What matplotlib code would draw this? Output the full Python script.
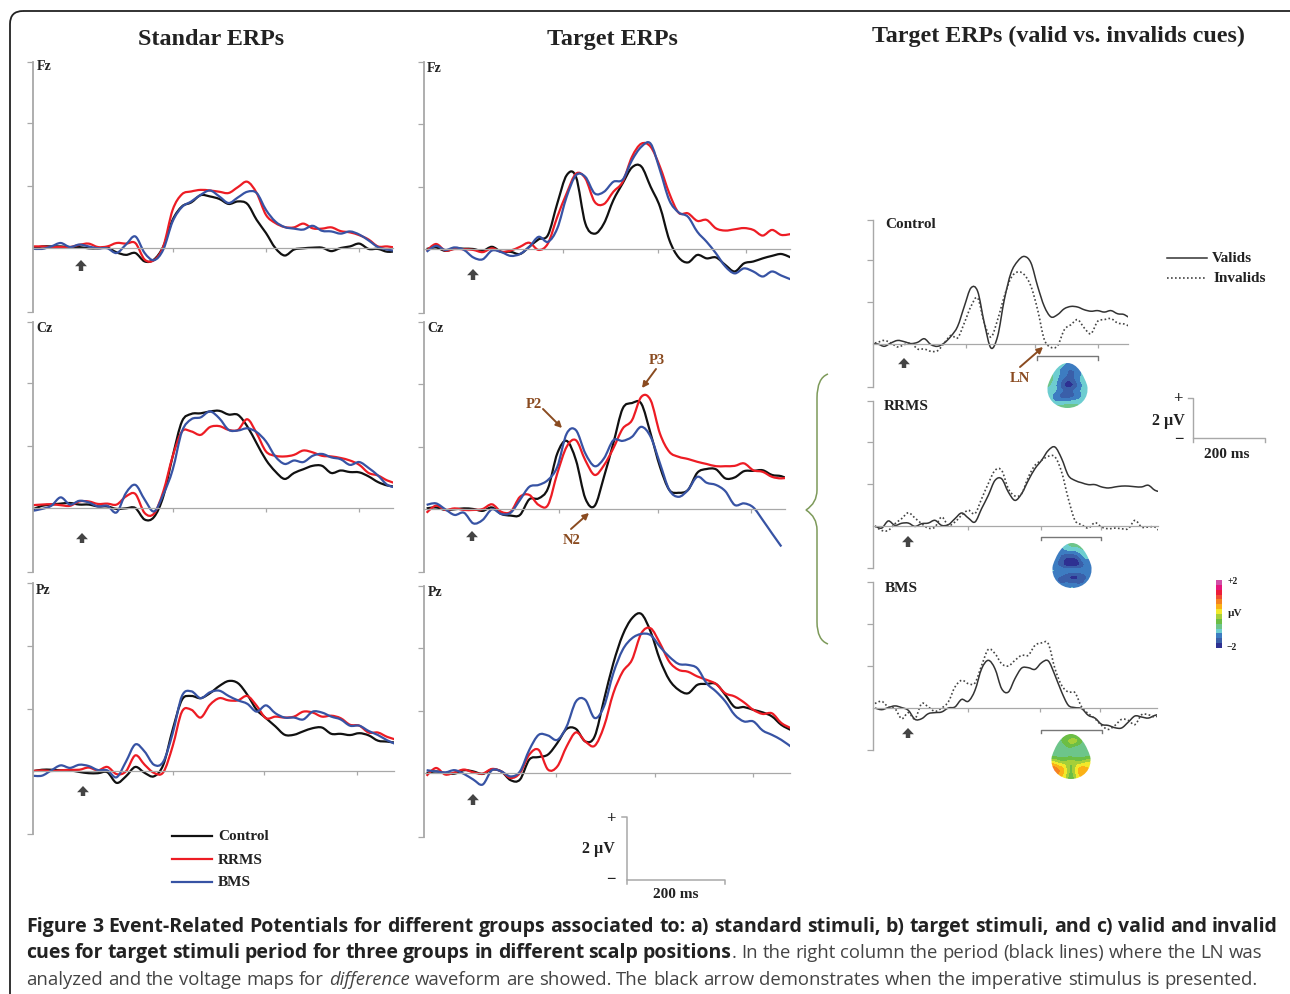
"""ERP figure: standard / target waveforms by group, valid vs invalid cues, scalp maps."""
import matplotlib

matplotlib.use("Agg")
import matplotlib.pyplot as plt
import numpy as np
from matplotlib.colors import ListedColormap
from matplotlib.patches import FancyBboxPatch, PathPatch
from matplotlib.path import Path

W, H = 1290, 994
SERIF = "Liberation Serif"
SANS = "Open Sans"

# time base in ms, one sample every 20 ms
t_group = list(range(-100, 700, 20))
t_ctrl = list(range(-100, 700, 20))
t_long = list(range(-100, 780, 20))

# ---------- Standard ERPs, values in uV ----------
std_fz_control = [-.02, .05, .05, .05, .03, .03, -.01, -.01, .01, -.14, -.22, -.16, -.43, -.37, .05, .9, 1.33, 1.46, 1.69, 1.65, 1.57, 1.41, 1.49, 1.41, .9, .48, 0, -.24, -.05, -.01, .01, .01, -.1, 0, .05, .14, -.03, -.03, -.12, -.1]
std_fz_rrms = [.05, .05, .03, .03, .03, .1, .14, .03, .05, .16, .14, .16, -.37, -.39, .05, 1.22, 1.72, 1.81, 1.86, 1.84, 1.8, 1.76, 1.95, 2.12, 1.76, 1.06, .8, .67, .66, .78, .63, .62, .66, .54, .5, .41, .27, .05, .05, 0]
std_fz_bms = [-.02, -.03, .05, .16, .03, .11, .05, -.01, -.01, -.16, .11, .37, -.16, -.39, -.05, .85, 1.31, 1.49, 1.7, 1.84, 1.65, 1.44, 1.62, 1.8, 1.76, 1.22, .85, .67, .62, .59, .71, .55, .53, .46, .53, .43, .24, .03, -.05, -.1]

std_cz_control = [-.05, .07, .11, .14, .16, .11, .11, .05, .05, -.03, -.01, 0, -.37, -.29, .37, 1.65, 2.77, 3.01, 3.03, 3.09, 3.11, 2.99, 2.98, 2.61, 2.07, 1.54, 1.17, .93, 1.12, 1.24, 1.35, 1.35, 1.12, 1.2, 1.15, 1.14, 1.01, .83, .72, .68]
std_cz_rrms = [.09, .11, .12, .09, .07, .21, .21, .13, .14, .11, .37, .45, -.16, -.18, .53, 1.65, 2.45, 2.45, 2.34, 2.59, 2.62, 2.5, 2.5, 2.84, 2.39, 1.81, 1.67, 1.65, 1.7, 1.84, 1.78, 1.67, 1.65, 1.6, 1.52, 1.38, 1.12, 1.04, .88, .78]
std_cz_bms = [-.09, -.03, .07, .34, .11, .23, .18, .05, .07, -.14, .48, .74, .27, -.11, .43, 1.22, 2.45, 2.84, 2.9, 3.09, 2.87, 2.5, 2.48, 2.55, 2.43, 2.13, 1.65, 1.41, 1.52, 1.47, 1.67, 1.73, 1.62, 1.56, 1.38, 1.47, 1.28, 1.04, .74, .65]

std_pz_control = [-.01, .04, .04, .02, .02, -.03, -.07, -.07, -.04, -.38, -.17, .13, -.06, -.17, .2, 1.32, 2.28, 2.4, 2.33, 2.49, 2.72, 2.88, 2.81, 2.44, 1.96, 1.69, 1.43, 1.16, 1.16, 1.27, 1.37, 1.39, 1.19, 1.19, 1.15, 1.21, 1.14, .97, .94, .9]
std_pz_rrms = [0, .02, 0, .02, .04, .04, .11, .02, .13, -.1, -.01, .5, .2, -.06, -.04, .79, 1.9, 1.96, 1.71, 2.12, 2.33, 2.26, 2.26, 2.4, 2.09, 1.69, 1.74, 1.71, 1.74, 1.9, 1.87, 1.74, 1.77, 1.69, 1.48, 1.45, 1.23, 1.23, 1.09, 1.0]
std_pz_bms = [-.15, -.15, .02, .18, .1, .2, .16, .03, .02, -.2, .3, .85, .62, .2, .3, 1.2, 2.4, 2.55, 2.33, 2.52, 2.57, 2.4, 2.26, 2.15, 1.9, 2.1, 1.85, 1.71, 1.71, 1.65, 1.9, 1.87, 1.74, 1.65, 1.45, 1.45, 1.28, 1.15, .98, .85]

# ---------- Target ERPs ----------
tgt_fz_control = [0, .05, -.06, .01, .01, 0, -.06, .07, -.09, -.09, -.16, .07, .31, .45, 1.46, 2.36, 2.31, .82, .49, .82, 1.56, 2.1, 2.61, 2.64, 1.99, 1.35, .29, -.27, -.43, -.19, -.3, -.27, -.51, -.72, -.46, -.4, -.3, -.22, -.16, -.27]
tgt_fz_rrms = [-.06, .16, -.05, 0, -.01, -.03, -.1, .02, -.09, -.05, .07, .2, -.03, .18, 1.03, 1.78, 2.41, 2.26, 1.51, 1.44, 1.83, 2.15, 2.95, 3.37, 3.27, 2.63, 1.78, 1.16, 1.14, .9, .93, .66, .59, .63, .67, .61, .43, .61, .45, .48]
tgt_fz_bms = [-.09, .1, -.03, .05, -.03, -.27, -.33, -.05, -.1, -.22, -.16, .07, .39, .23, .66, 1.67, 2.36, 2.31, 1.78, 1.83, 2.15, 2.22, 2.84, 3.27, 3.37, 2.52, 1.56, 1.17, 1.03, .55, .23, -.14, -.56, -.78, -.62, -.72, -.88, -.72, -.85, -.97]

tgt_cz_control = [.02, .05, -.03, -.01, .02, 0, -.06, .05, -.16, -.21, -.19, .31, .34, .66, 1.78, 2.18, 1.56, .34, .1, 1.03, 2.1, 3.21, 3.39, 3.37, 2.41, 1.35, .61, .52, .61, 1.16, 1.28, 1.27, .98, 1.01, 1.21, 1.22, 1.24, 1.09, 1.05, .93]
tgt_cz_rrms = [-.12, .11, -.03, .02, -.03, -.03, 0, .15, -.09, -.09, .39, .45, .13, .13, 1.14, 1.99, 2.2, 1.56, 1.09, 1.4, 1.94, 2.57, 2.84, 3.59, 3.48, 2.41, 1.83, 1.67, 1.6, 1.51, 1.44, 1.37, 1.37, 1.38, 1.46, 1.24, 1.19, 1.03, .98, 1.03]
tgt_cz_bms = [.13, .18, -.01, -.19, -.12, -.46, -.35, -.01, -.16, -.12, .29, .71, .77, .93, 1.35, 2.41, 2.52, 1.78, 1.37, 1.62, 2.2, 2.18, 2.31, 2.63, 2.31, 1.46, .61, .39, .61, 1.03, .84, .77, .57, .13, .18, .05, -.35, -.78, -1.2, np.nan]

tgt_pz_control = [0, .05, 0, -.02, .09, .05, -.03, .11, .05, -.23, -.21, .43, .51, .59, .96, 1.41, 1.41, 1.01, 1.17, 2.34, 3.51, 4.41, 4.95, 5.09, 4.52, 3.62, 2.98, 2.66, 2.55, 2.82, 2.85, 2.85, 2.5, 2.11, 2.11, 2.02, 1.94, 1.81, 1.54, 1.38]
tgt_pz_rrms = [-.09, .16, -.05, .02, .11, .02, -.02, .13, .05, -.16, 0, .59, .74, .11, .21, .85, 1.3, 1.01, .87, 1.49, 2.55, 3.24, 3.62, 4.47, 4.63, 4.15, 3.56, 3.3, 3.24, 3.09, 2.98, 2.85, 2.55, 2.45, 2.26, 2.02, 1.89, 1.91, 1.6, 1.44]
tgt_pz_bms = [.09, .05, .02, .09, -.03, -.21, -.37, .09, .05, -.11, .05, .74, 1.22, 1.2, 1.06, 1.49, 2.29, 2.34, 1.76, 2.13, 3.19, 3.94, 4.31, 4.45, 4.41, 4.04, 3.72, 3.49, 3.46, 3.35, 2.87, 2.61, 2.29, 1.86, 1.65, 1.65, 1.36, 1.22, 1.06, .85]

# ---------- Valid vs invalid cues ----------
cue_ctrl_valid = [0, 0, -.11, .05, .17, .11, .02, .08, .25, -.03, -.11, .05, .37, .84, 1.79, 2.67, 2.51, 1, -.19, .37, 2.11, 3.38, 3.94, 4.17, 3.86, 2.75, 1.79, 1.29, 1.4, 1.68, 1.79, 1.76, 1.63, 1.56, 1.59, 1.52, 1.59, 1.44, 1.4, 1.19]
cue_ctrl_invalid = [0, .08, .17, .05, -.14, -.03, .05, -.24, -.24, -.35, -.32, .05, .41, .29, 1, 1.79, 2.19, 1, .33, 1.16, 2.27, 3.14, 3.43, 3.3, 2.75, 1.63, .21, -.16, -.08, .68, .92, 1.16, .76, .49, 1.08, 1.16, 1.21, 1, .95, .81]
cue_rrms_valid = [0, -.1, .24, .03, .13, .14, -.02, .11, .14, .27, .03, .06, .35, .62, .38, .19, .83, 1.46, 2.17, 2.25, 1.62, 1.22, 1.54, 2.17, 2.73, 3.13, 3.6, 3.76, 3.21, 2.41, 2.17, 2.06, 1.97, 1.97, 1.86, 1.81, 1.86, 1.9, 1.9, 1.87, 1.86, 1.94, 1.7, 1.62]
cue_rrms_invalid = [0, -.21, -.21, .11, .35, .63, .38, .11, -.1, -.05, .43, .03, .19, .51, .75, .59, 1.3, 2.02, 2.65, 2.65, 1.78, 1.43, 1.54, 2.33, 2.89, 3.13, 3.32, 3.29, 2.57, 1.3, .27, .06, -.1, .16, -.05, -.13, -.1, -.13, -.13, .27, -.05, -.05, -.05, -.37]
cue_bms_valid = [0, -.08, .02, .1, .02, -.11, -.54, -.51, -.27, -.22, -.19, 0, .05, .41, .32, .84, 1.87, 2.27, 1.87, .92, .76, 1.4, 1.9, 1.92, 1.84, 2.16, 2.24, 1.56, .76, .13, .02, -.03, -.35, -.48, -.78, -.83, -.94, -.95, -.67, -.38, -.43, -.48, -.35, -.27]
cue_bms_invalid = [.21, .32, .05, -.03, -.51, -.22, -.51, .21, .05, -.16, 0, .29, 1, 1.32, 1.16, 1.19, 2.03, 2.79, 2.59, 2.11, 2, 2.27, 2.51, 2.51, 2.98, 3.1, 3.06, 1.87, 1.08, .76, .73, .05, -.27, -.51, -.83, -1.02, -.83, -.54, -.59, -.79, -.32, -.32, -.43, -.27]

# ---------- scalp voltage maps (uV), rows top to bottom ----------
map_control = [
    [-.7, -1, -1, -1.2, -1.2, -1, -.7],
    [-.7, -.95, -1.3, -1.5, -1.5, -1.3, -.95],
    [-.7, -.95, -1.2, -1.4, -1.5, -1.2, -.95],
    [-.7, -1, -1.4, -1.8, -1.5, -1.1, -.95],
    [-.8, -1.1, -1.6, -2, -1.9, -1.3, -1],
    [-.95, -1, -1.3, -1.4, -1.3, -1.1, -1],
    [-1, -1.4, -1.6, -1.7, -1.6, -1.3, -1],
    [-1, -1.2, -1.3, -1.2, -1.1, -1, -1],
    [-.95, -.8, -.7, -.7, -.7, -.8, -.95],
]
map_rrms = [
    [-1.3, -1, -.9, -.7, -.7, -.8, -1],
    [-1.4, -1.3, -1, -1, -1, -.7, -.9],
    [-1.4, -1.4, -1.5, -1.5, -1.4, -1, -1],
    [-1.3, -1.4, -1.9, -1.9, -1.8, -1.1, -1.2],
    [-1.4, -1.6, -2, -2, -2, -1.5, -1.3],
    [-1, -1.1, -1, -.95, -1, -1.2, -1.3],
    [-1.4, -1.4, -1.6, -1.9, -1.8, -1.5, -1.4],
    [-1.4, -1.5, -1.5, -1.8, -1.7, -1.4, -1.4],
    [-1.3, -1.4, -1.3, -1, -1.3, -1.4, -1.3],
]
map_bms = [
    [-.7, -.7, -.6, -.6, -.6, -.7, -.7],
    [-.7, -.6, -.4, .1, 0, -.6, -.7],
    [-.7, -.7, -.6, -.4, -.6, -.7, -.7],
    [-.7, -.75, -.7, -.75, -1, -.7, -.7],
    [-.7, -.7, -.7, -.7, -.7, -.7, -.7],
    [.1, -.3, -.3, .1, -.3, -.3, .1],
    [.6, .4, .2, -.7, .2, .4, .2],
    [1.2, .6, .4, -.6, .4, .6, .4],
    [.6, .4, .1, -.7, .1, .4, .2],
]
map_colors = ["#2e3192", "#3a5fa9", "#3d7cc1", "#6dcdd0", "#6dc58a", "#6cbe45", "#a5cf39",
              "#f2e82a", "#fbb116", "#f58220", "#f04e30", "#ed1c3a", "#e6147d", "#d04fa8"]

# LN analysis window per group, ms
lnw_ctrl = [397, 582]
lnw_rrms = [398, 577]
lnw_bms = [398, 580]

BLACK, RED, BLUE = "#111111", "#ed1c24", "#3753a4"
AXIS = "#a8a8a8"
BROWN = "#8a4b20"
INK = "#222222"

plt.rcParams["font.family"] = [SERIF, "DejaVu Serif"]
fig = plt.figure(figsize=(W / 100, H / 100), dpi=100)


def px_axes(left, right, top, bottom, **kw):
    return fig.add_axes([left / W, 1 - bottom / H, (right - left) / W, (bottom - top) / H], **kw)


def smooth_line(ax, t, y, **kw):
    # Catmull-Rom through the samples so the traces do not look polygonal
    pts = np.column_stack([t, y])
    pts = pts[np.isfinite(pts[:, 1])]
    m = np.zeros_like(pts)
    m[1:-1] = (pts[2:] - pts[:-2]) / 2
    verts = [pts[0]]
    for i in range(len(pts) - 1):
        verts += [pts[i] + m[i] / 3, pts[i + 1] - m[i + 1] / 3, pts[i + 1]]
    codes = [Path.MOVETO] + [Path.CURVE4] * (len(verts) - 1)
    ax.add_patch(PathPatch(Path(verts, codes), fc="none", joinstyle="round", **kw))


def panel(box, zero_x, zero_y, sx, sy, xticks, lw=1.3):
    left, right, top, bottom = box
    ax = px_axes(left, right, top, bottom)
    ax.patch.set_alpha(0)
    ax.set_xlim((left - zero_x) / sx, (right - zero_x) / sx)
    ybot, ytop = (zero_y - bottom) / sy, (zero_y - top) / sy
    ax.set_ylim(ybot, ytop)
    for s in ("top", "right"):
        ax.spines[s].set_visible(False)
    ax.spines["bottom"].set_position(("data", 0))
    ax.spines["bottom"].set_color(AXIS)
    ax.spines["bottom"].set_linewidth(0.9)
    ax.spines["left"].set_color(AXIS)
    ax.spines["left"].set_linewidth(lw)
    ax.set_xticks(xticks)
    ax.set_yticks([ybot, 2, 4, ytop])
    ax.tick_params(axis="x", length=3, width=0.9, color=AXIS, labelbottom=False)
    ax.tick_params(axis="y", length=4, width=0.9, color=AXIS, labelleft=False)
    return ax


def group_panel(box, zero_x, zero_y, xticks, control, rrms, bms):
    ax = panel(box, zero_x, zero_y, 0.4667, 31.25, xticks)
    for ys, c in ((control, BLACK), (rrms, RED), (bms, BLUE)):
        smooth_line(ax, t_group, ys, ec=c, lw=1.6)
    return ax


def cue_panel(box, zero_x, zero_y, xticks, t, valid, invalid, window, win_y):
    ax = panel(box, zero_x, zero_y, 1 / 3, 21.0, xticks, lw=1.0)
    smooth_line(ax, t, valid, ec="#333333", lw=1.1)
    smooth_line(ax, t, invalid, ec="#444444", lw=1.2, ls=(0, (1, 1.4)))
    ax.plot([window[0], window[0], window[1], window[1]], [win_y - .15, win_y, win_y, win_y - .15],
            color="#777777", lw=1.0)
    return ax


group_panel((33, 393, 62, 312), 79.3, 248, [200, 400, 600], std_fz_control, std_fz_rrms, std_fz_bms)
group_panel((33, 393, 322, 572), 79.3, 508, [200, 400, 600], std_cz_control, std_cz_rrms, std_cz_bms)
group_panel((33, 394, 583, 834), 79.3, 771, [200, 396, 596], std_pz_control, std_pz_rrms, std_pz_bms)
group_panel((424, 790, 62, 313), 473.3, 249, [193, 396, 584], tgt_fz_control, tgt_fz_rrms, tgt_fz_bms)
group_panel((424, 785, 322, 572), 473.3, 509, [184, 395, 595], tgt_cz_control, tgt_cz_rrms, tgt_cz_bms)
group_panel((424, 790, 586, 837), 473.3, 773, [177, 389, 600], tgt_pz_control, tgt_pz_rrms, tgt_pz_bms)

cue_panel((873, 1128, 220, 387), 904.3, 344, [184, 392, 582], t_ctrl, cue_ctrl_valid, cue_ctrl_invalid, lnw_ctrl, -.59)
cue_panel((873, 1158, 401, 568), 908.3, 526, [180, 398, 577], t_long, cue_rrms_valid, cue_rrms_invalid, lnw_rrms, -.52)
cue_panel((873, 1157, 582, 750), 908.3, 708, [180, 395, 575], t_long, cue_bms_valid, cue_bms_invalid, lnw_bms, -1.06)

# scalp maps, clipped to an egg outline
map_cmap = ListedColormap(map_colors)
egg = Path([(.5, 1), (.74, 1), (.9, .72), (.98, .5), (1.04, .22), (.8, 0), (.5, 0),
            (.2, 0), (-.04, .22), (.02, .5), (.1, .72), (.26, 1), (.5, 1)],
           [Path.MOVETO] + [Path.CURVE4] * 12)
for box, values in (((1047, 1088, 363, 408), map_control),
                    ((1052, 1092, 543, 588), map_rrms),
                    ((1051, 1091, 734, 779), map_bms)):
    ax = px_axes(*box)
    ax.axis("off")
    im = ax.imshow(values, extent=(0, 1, 0, 1), aspect="auto", cmap=map_cmap, vmin=-2, vmax=2,
                   interpolation="bicubic", interpolation_stage="data")
    im.set_clip_path(PathPatch(egg, transform=ax.transData))

# colour scale, one cell per map colour
cax = px_axes(1216, 1222, 580, 648)
cax.pcolormesh([0, 1], np.arange(len(map_colors) + 1), np.arange(len(map_colors))[:, None],
               cmap=map_cmap, edgecolors="none")
cax.axis("off")

# everything positioned by hand lives on a pixel overlay
ov = fig.add_axes([0, 0, 1, 1], zorder=5)
ov.set_xlim(0, W)
ov.set_ylim(H, 0)
ov.axis("off")
ov.patch.set_alpha(0)

ov.add_patch(FancyBboxPatch((10, 11), 1320, 1040, boxstyle="round,pad=0,rounding_size=13",
                            fc="none", ec="#222222", lw=1.3))

brace = Path([(828, 374), (817, 378), (817, 398), (817, 490), (817, 503), (806, 510),
              (817, 517), (817, 530), (817, 622), (817, 640), (828, 644)],
             [Path.MOVETO, Path.CURVE3, Path.CURVE3, Path.LINETO, Path.CURVE3, Path.CURVE3,
              Path.CURVE3, Path.CURVE3, Path.LINETO, Path.CURVE3, Path.CURVE3])
ov.add_patch(PathPatch(brace, fc="none", ec="#7d9a5a", lw=1.1))


def label(x, y, s, size=10, ha="left", color=INK):
    ov.text(x, y, s, fontsize=size, fontweight="bold", ha=ha, va="center", color=color)


label(211, 39.5, "Standar ERPs", 17.4, "center")
label(612, 39.5, "Target ERPs", 17.4, "center")
label(1058, 36.5, "Target ERPs (valid vs. invalids cues)", 17.3, "center")

for x, y, s in ((37, 67, "Fz"), (427, 68, "Fz"), (36, 328, "Cz"), (427, 328, "Cz"), (36, 590, "Pz"), (428, 592, "Pz")):
    label(x, y, s, 10)
for x, y, s in ((885, 225, "Control"), (884, 407, "RRMS"), (885, 589, "BMS")):
    label(x, y, s, 11)

# stimulus onset arrows
for x, y0, y1 in ((81, 260, 271), (82, 533, 543), (83, 786, 796), (473, 269, 280), (472, 531, 541),
                  (473, 794, 805), (904, 358, 368), (908, 536, 547), (908, 728, 738)):
    ov.annotate("", xy=(x, y0), xytext=(x, y1),
                arrowprops=dict(arrowstyle="simple,head_length=0.45,head_width=0.85,tail_width=0.32",
                                mutation_scale=10, fc="#444444", ec="none", shrinkA=0, shrinkB=0))

# component labels
for (x, y, s), start, end in (((534, 404, "P2"), (543, 409), (562, 428)),
                              ((657, 361, "P3"), (656, 369), (642, 388)),
                              ((572, 541, "N2"), (571, 529), (589, 513)),
                              ((1020, 379, "LN"), (1020, 367), (1043, 347))):
    label(x, y, s, 10.5, "center", BROWN)
    ov.annotate("", xy=end, xytext=start,
                arrowprops=dict(arrowstyle="-|>,head_width=0.18,head_length=0.35", color=BROWN, lw=1.4,
                                shrinkA=0, shrinkB=0))

# group legend
for y, name, c in ((836, "Control", BLACK), (859, "RRMS", RED), (882, "BMS", BLUE)):
    ov.plot([172, 212], [y, y], color=c, lw=1.6)
    label(218, y + 1, name, 11)
ov.plot([1167, 1207], [258, 258], color="#333333", lw=1.1)
ov.plot([1167, 1207], [278, 278], color="#444444", lw=1.2, ls=(0, (1, 1.4)))
label(1212, 259, "Valids", 11)
label(1214, 279, "Invalids", 11)

# scale bars
ov.plot([622, 627, 627, 725, 725], [817, 817, 880, 880, 884], color=AXIS, lw=1.1)
ov.plot([627, 627], [880, 884], color=AXIS, lw=1.1)
label(611, 819, "+", 12, "center")
label(611, 880, "\u2212", 12, "center")
label(598, 849, "2 \u00b5V", 11.5, "center")
label(676, 895, "200 ms", 11, "center")
ov.plot([1188, 1193, 1193, 1265, 1265], [398, 398, 438, 438, 442], color=AXIS, lw=1.0)
ov.plot([1193, 1193], [438, 442], color=AXIS, lw=1.0)
label(1178, 399, "+", 12, "center")
label(1179, 440, "\u2212", 12, "center")
label(1168, 421, "2 \u00b5V", 11.5, "center")
label(1227, 455, "200 ms", 11, "center")
label(1233, 582, "+2", 7, "center")
label(1235, 613, "\u00b5V", 8, "center")
label(1232, 647, "\u22122", 7, "center")

# caption, justified word by word
renderer = fig.canvas.get_renderer()
BOLD = dict(fontweight="bold", color="#222222", fontsize=14)
REG = dict(fontweight="normal", color="#444444", fontsize=13.3)
ITAL = dict(fontweight="normal", fontstyle="italic", color="#444444", fontsize=13.3)


def caption_line(y, x0, x1, runs):
    items = []
    for text, style in runs:
        for i, word in enumerate(text.split()):
            glue = i == 0 and not text.startswith(" ") and items != []
            t = ov.text(0, y, word, family=SANS, va="baseline", ha="left", **style)
            items.append((t, t.get_window_extent(renderer).width, glue))
    gaps = sum(1 for it in items[1:] if not it[2])
    space = (x1 - x0 - sum(it[1] for it in items)) / gaps
    x = x0
    for t, w, glue in items:
        if glue:
            x -= space
        t.set_x(x)
        x += w + space


caption_line(932, 26, 1278, [("Figure 3 Event-Related Potentials for different groups associated to: a) standard stimuli, "
                              "b) target stimuli, and c) valid and invalid", BOLD)])
caption_line(958, 26, 1262, [("cues for target stimuli period for three groups in different scalp positions", BOLD),
                             (". In the right column the period (black lines) where the LN was", REG)])
caption_line(985, 26, 1258, [("analyzed and the voltage maps for", REG), (" difference", ITAL),
                             (" waveform are showed. The black arrow demonstrates when the imperative stimulus is presented.", REG)])

fig.savefig("out.png", dpi=100)
